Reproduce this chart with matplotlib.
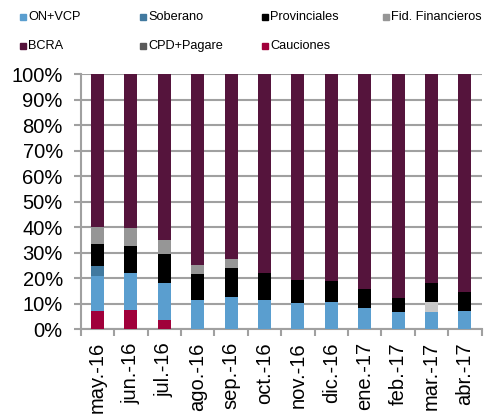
import matplotlib.pyplot as plt
import matplotlib.patches as mpatches
import numpy as np

plt.rcParams['font.family'] = ['Liberation Sans', 'DejaVu Sans']

months = ['may.-16', 'jun.-16', 'jul.-16', 'ago.-16', 'sep.-16', 'oct.-16',
          'nov.-16', 'dic.-16', 'ene.-17', 'feb.-17', 'mar.-17', 'abr.-17']

# shares in % (bottom -> top), BCRA is the rest up to 100
cauciones = [6.9, 7.6, 3.4, 0, 0, 0, 0, 0, 0, 0, 0, 0]
on_vcp = [13.9, 14.5, 14.6, 11.5, 12.6, 11.4, 10.2, 10.4, 8.4, 6.7, 6.8, 6.9]
soberano = [3.9, 0, 0, 0, 0, 0, 0, 0, 0, 0, 0, 0]
cpd_pagare = [0, 0, 0, 0, 0, 0, 0, 0, 0, 0, 3.6, 0]
provinciales = [8.6, 10.4, 11.4, 10.1, 11.3, 10.5, 9.1, 8.6, 7.1, 5.3, 7.6, 7.6]
fid_fin = [6.7, 7.0, 5.4, 3.5, 3.4, 0, 0, 0, 0, 0, 0, 0]
bcra = [100 - sum(v) for v in zip(cauciones, on_vcp, soberano, cpd_pagare, provinciales, fid_fin)]

series = [
    (cauciones, '#a0003a'),
    (on_vcp, '#5a9ecf'),
    (soberano, '#41799f'),
    (cpd_pagare, '#c8c8c8'),
    (provinciales, '#000000'),
    (fid_fin, '#969696'),
    (bcra, '#55143c'),
]

fig = plt.figure(figsize=(4.87, 4.17), dpi=100)
ax = fig.add_axes([0.166, 0.211, 0.823, 0.6115])

x = np.arange(len(months))
bottom = np.zeros(len(months))
for vals, col in series:
    ax.bar(x, vals, bottom=bottom, width=0.39, color=col, zorder=3)
    bottom += np.array(vals)

grid_col = '#a0a0a0'
ax.set_xlim(-0.5, len(months) - 0.5)
ax.set_ylim(0, 100)
ax.set_yticks(np.arange(0, 101, 10))
ax.set_yticklabels([f'{v}%' for v in range(0, 101, 10)], fontsize=14.5)
ax.yaxis.grid(True, color=grid_col, linewidth=1.5, zorder=0)
for s in ['top', 'right']:
    ax.spines[s].set_visible(False)
for s in ['left', 'bottom']:
    ax.spines[s].set_color(grid_col)
    ax.spines[s].set_linewidth(1.5)
ax.tick_params(axis='y', color=grid_col, width=1.5, length=5, pad=8)

ax.set_xticks(np.arange(-0.5, len(months), 1))
ax.set_xticklabels([])
ax.set_xticks(x, minor=True)
ax.set_xticklabels(months, minor=True, rotation=90, fontsize=14.5)
ax.tick_params(axis='x', which='major', color=grid_col, width=1.5, length=5)
ax.tick_params(axis='x', which='minor', length=0, pad=9.5)

# legend laid out like the original (4 columns, 2 rows)
legend_items = [
    ('ON+VCP', '#5a9ecf', 20, 17), ('Soberano', '#41799f', 140, 17),
    ('Provinciales', '#000000', 262, 17), ('Fid. Financieros', '#969696', 383, 17),
    ('BCRA', '#55143c', 20, 46), ('CPD+Pagare', '#595959', 140, 46),
    ('Cauciones', '#a0003a', 262, 46),
]
W, H = 487, 417
for label, col, px, py in legend_items:
    fig.patches.append(mpatches.Rectangle((px / W, 1 - (py + 3) / H), 6 / W, 6 / H,
                                          transform=fig.transFigure, color=col))
    fig.text((px + 8) / W, 1 - py / H, label, fontsize=9.2, va='center', ha='left')

fig.savefig('out.png', dpi=100)
